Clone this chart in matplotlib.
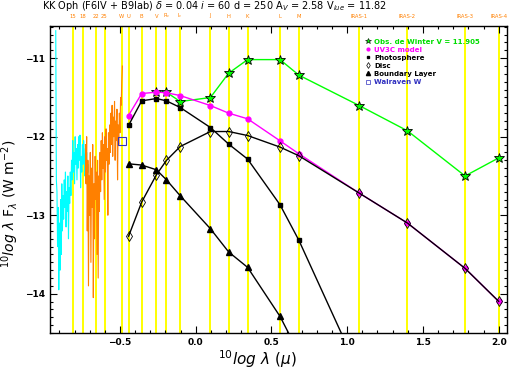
import numpy as np
import matplotlib
matplotlib.use('Agg')
import matplotlib.pyplot as plt
from matplotlib.lines import Line2D
from matplotlib.ticker import MultipleLocator
from matplotlib.transforms import blended_transform_factory

# photometric bands (micron)
band_names = ['15', '18', '22', '25', 'W', 'U', 'B', 'V', 'R$_c$', 'I$_c$',
              'J', 'H', 'K', 'L', 'M', 'IRAS-1', 'IRAS-2', 'IRAS-3', 'IRAS-4']
band_wl = [0.155, 0.18, 0.22, 0.25, 0.325, 0.36, 0.44, 0.55, 0.64, 0.79,
           1.25, 1.65, 2.2, 3.6, 4.8, 12.0, 25.0, 60.0, 100.0]

# de Winter photometry: V .. IRAS-4
obs_wl = [0.55, 0.64, 0.79, 1.25, 1.65, 2.2, 3.6, 4.8, 12.0, 25.0, 60.0, 100.0]
obs_f = [-11.425, -11.433, -11.552, -11.501, -11.191, -11.018, -11.018, -11.216,
         -11.603, -11.925, -12.50, -12.27]

# model components: U .. IRAS-4
mod_wl = [0.36, 0.44, 0.55, 0.64, 0.79, 1.25, 1.65, 2.2, 3.6, 4.8, 12.0, 25.0, 60.0, 100.0]
model_f = [-11.73, -11.45, -11.433, -11.44, -11.476, -11.603, -11.70, -11.772,
           -12.052, -12.218, -12.718, -13.10, -13.677, -14.097]
phot_f = [-11.857, -11.543, -11.514, -11.543, -11.628, -11.883, -12.094, -12.285,
          -12.866, -13.32, -15.0]
disc_f = [-13.27, -12.832, -12.485, -12.303, -12.125, -11.934, -11.934, -11.985,
          -12.132, -12.243, -12.718, -13.10, -13.677, -14.097]
bl_f = [-12.345, -12.361, -12.421, -12.548, -12.752, -13.172, -13.468, -13.664,
        -14.288, -14.756]

walraven_wl = [0.325]
walraven_f = [-12.05]

# IUE spectra (log lambda, log lambda F)
swp_x = [-0.924, -0.920, -0.916, -0.912, -0.908, -0.904, -0.900, -0.896, -0.892, -0.888,
         -0.884, -0.880, -0.876, -0.872, -0.868, -0.864, -0.860, -0.856, -0.852, -0.848,
         -0.844, -0.840, -0.836, -0.832, -0.828, -0.824, -0.820, -0.816, -0.812, -0.808,
         -0.804, -0.800, -0.796, -0.792, -0.788, -0.784, -0.780, -0.776, -0.772, -0.768,
         -0.764, -0.760, -0.756, -0.752, -0.748, -0.744, -0.740, -0.736, -0.732, -0.728,
         -0.724, -0.720, -0.716, -0.712, -0.708]
swp_y = [-10.65, -12.55, -12.70, -13.40, -12.90, -13.95, -13.10, -13.70, -12.80, -13.50,
         -12.60, -13.20, -12.75, -13.05, -12.55, -12.90, -12.45, -13.15, -12.70, -12.95,
         -12.50, -13.30, -12.65, -12.85, -12.45, -12.75, -12.30, -12.55, -12.05, -12.45,
         -12.20, -12.60, -12.00, -12.35, -12.15, -12.55, -12.10, -12.40, -12.00, -12.30,
         -11.98, -12.65, -12.25, -12.45, -12.10, -12.35, -12.05, -12.25, -12.50, -12.15,
         -12.40, -12.20, -12.60, -12.35, -12.45]
lwp_x = [-0.728, -0.724, -0.720, -0.716, -0.712, -0.708, -0.704, -0.700, -0.696, -0.692,
         -0.688, -0.684, -0.680, -0.676, -0.672, -0.668, -0.664, -0.660, -0.656, -0.652,
         -0.648, -0.644, -0.640, -0.636, -0.632, -0.628, -0.624, -0.620, -0.616, -0.612,
         -0.608, -0.604, -0.600, -0.596, -0.592, -0.588, -0.584, -0.580, -0.576, -0.572,
         -0.568, -0.564, -0.560, -0.556, -0.552, -0.548, -0.544, -0.540, -0.536, -0.532,
         -0.528, -0.524, -0.520, -0.516, -0.512, -0.508, -0.504, -0.500, -0.496, -0.492,
         -0.488, -0.484]
lwp_y = [-12.10, -12.60, -12.00, -13.20, -12.30, -13.90, -12.50, -13.00, -12.20, -13.60,
         -12.40, -12.90, -12.10, -14.05, -12.60, -13.30, -12.25, -12.80, -12.45, -13.50,
         -12.30, -13.80, -12.50, -12.95, -12.20, -12.70, -12.05, -12.55, -11.95, -12.40,
         -12.10, -12.80, -12.00, -12.45, -11.90, -12.30, -12.15, -13.00, -11.95, -12.35,
         -11.85, -12.20, -11.70, -12.10, -11.60, -12.25, -11.75, -12.00, -11.55, -12.30,
         -11.80, -12.05, -11.65, -12.55, -11.85, -12.10, -11.70, -11.95, -11.50, -11.60,
         -11.30, -11.10]

plt.rcParams['font.family'] = 'DejaVu Sans'
plt.rcParams['mathtext.fontset'] = 'dejavusans'

fig = plt.figure(figsize=(5.09, 3.73), dpi=100)
ax = fig.add_axes([50 / 509, 1 - 333 / 373, 457 / 509, 307 / 373])

# yellow band markers + names above the frame
trans = blended_transform_factory(ax.transData, fig.transFigure)
for wl in band_wl:
    ax.axvline(np.log10(wl), color='#ffff00', lw=1.4, zorder=1)
for name, wl in zip(band_names, band_wl):
    ax.text(np.log10(wl), 1 - 16 / 373, name, transform=trans,
            ha='center', va='center', fontsize=3.8, color='#ff8000')

# spectra
ax.plot(swp_x, swp_y, color='#00ffff', lw=0.8, zorder=2)
ax.plot(lwp_x, lwp_y, color='#ff8000', lw=0.8, zorder=2)

ax.plot(np.log10(obs_wl), obs_f, color='#00ff00', lw=1, marker='*', ms=7,
        mfc='#00ff00', mec='black', mew=0.6, zorder=4)
ax.plot(np.log10(mod_wl), model_f, color='#ff00ff', lw=1, marker='o', ms=3.5,
        mfc='#ff00ff', mec='#ff00ff', zorder=5)
ax.plot(np.log10(mod_wl[:len(phot_f)]), phot_f, color='black', lw=1, marker='s', ms=3.2,
        zorder=5)
ax.plot(np.log10(mod_wl), disc_f, color='black', lw=1, marker='d', ms=5.5,
        mfc='none', mec='black', mew=0.6, zorder=5)
ax.plot(np.log10(mod_wl[:len(bl_f)]), bl_f, color='black', lw=1, marker='^', ms=4.5,
        zorder=5)
ax.plot(np.log10(walraven_wl), walraven_f, ls='none', marker='s', ms=6,
        mfc='none', mec='#3030c0', mew=0.8, zorder=6)

ax.set_xlim(-0.962, 2.055)
ax.set_ylim(-14.5, -10.59)
ax.xaxis.set_major_locator(MultipleLocator(0.5))
ax.xaxis.set_minor_locator(MultipleLocator(0.1))
ax.yaxis.set_major_locator(MultipleLocator(1))
ax.yaxis.set_minor_locator(MultipleLocator(0.1))
ax.tick_params(which='both', direction='in', top=True, right=True, labelsize=6.5, width=0.8)
ax.tick_params(which='major', length=5)
ax.tick_params(which='minor', length=2.5)
for lab in ax.get_xticklabels() + ax.get_yticklabels():
    lab.set_fontweight('bold')
for s in ax.spines.values():
    s.set_linewidth(1.0)

ax.set_xlabel(r'$^{10}\mathit{log}\ \lambda\ (\mu)$', fontsize=11)
ax.set_ylabel(r'$^{10}\mathit{log}\ \lambda\ \mathrm{F}_\lambda\ \mathrm{(W\ m^{-2})}$', fontsize=10)
ax.xaxis.set_label_coords(0.453, -0.05)
ax.yaxis.set_label_coords(-0.063, 0.42)

fig.text(42 / 509, 1 - 6 / 373,
         r'KK Oph (F6IV + B9Iab) $\delta$ = 0.04 $i$ = 60 d = 250 A$_V$ = 2.58 V$_{iue}$ = 11.82',
         ha='left', va='center', fontsize=7)

handles = [
    Line2D([], [], ls='none', marker='*', ms=4, mfc='#00ff00', mec='black', mew=0.4),
    Line2D([], [], ls='none', marker='o', ms=2, color='#ff00ff'),
    Line2D([], [], ls='none', marker='s', ms=2, color='black'),
    Line2D([], [], ls='none', marker='d', ms=3, mfc='none', mec='black', mew=0.5),
    Line2D([], [], ls='none', marker='^', ms=3, color='black'),
    Line2D([], [], ls='none', marker='s', ms=2.5, mfc='none', mec='#3030c0', mew=0.5),
]
labels = ['Obs. de Winter V = 11.905', 'UV3C model', 'Photosphere', 'Disc',
          'Boundary Layer', 'Walraven W']
leg = ax.legend(handles, labels, loc='upper left', bbox_to_anchor=(0.68, 0.975),
                frameon=False, fontsize=5, handlelength=0.6, handletextpad=0.6,
                labelspacing=0.3, borderpad=0.2,
                labelcolor=['#00dd00', '#ff00ff', 'black', 'black', 'black', '#3030c0'])
for t in leg.get_texts():
    t.set_fontweight('bold')

fig.savefig('out.png', dpi=100)
